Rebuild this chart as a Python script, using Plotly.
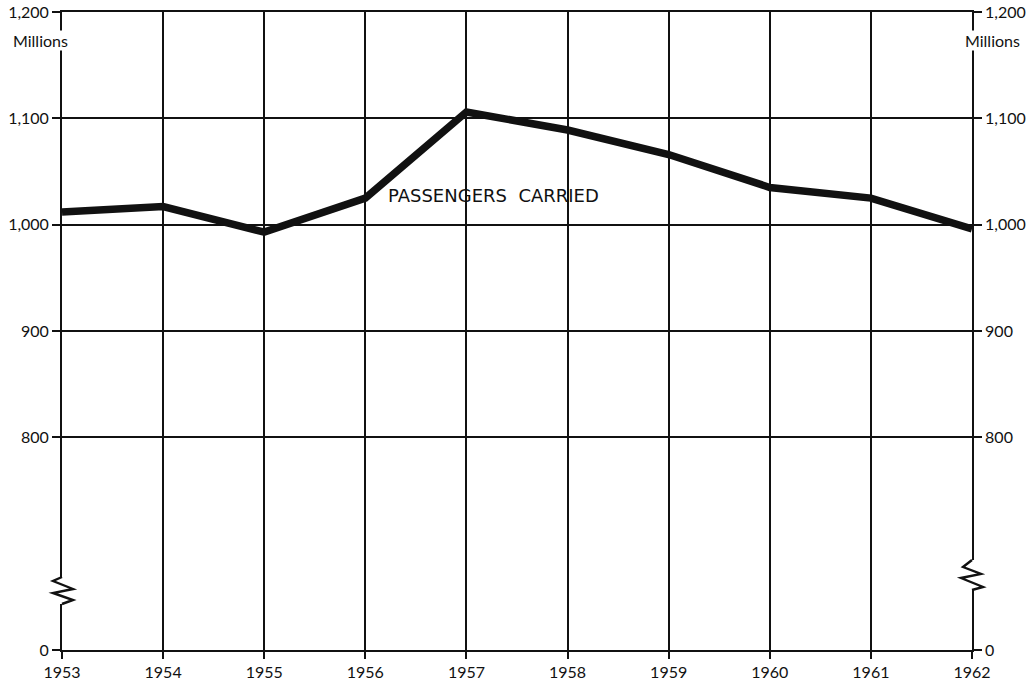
import plotly.graph_objects as go

years = [1953, 1954, 1955, 1956, 1957, 1958, 1959, 1960, 1961, 1962]
passengers = [1012, 1017, 993, 1025, 1106, 1089, 1066, 1035, 1025, 996]

# broken axis: the "0" baseline sits where 600 would be on the linear scale
y_tickvals = [600, 800, 900, 1000, 1100, 1200]
y_ticktext = ["0", "800", "900", "1,000", "1,100", "1,200"]

FONT = "Lato, 'Open Sans', sans-serif"
INK = "#111111"

W, H = 1030, 686
L, R, T, B = 62, 58, 12, 36
PW, PH = W - L - R, H - T - B

fig = go.Figure()

fig.add_trace(go.Scatter(
    x=years, y=passengers, mode="lines",
    line=dict(color=INK, width=7.5), showlegend=False, hoverinfo="skip",
))
# invisible trace for the right axis
fig.add_trace(go.Scatter(x=[years[0]], y=[600], yaxis="y2", mode="markers",
                         marker=dict(opacity=0), showlegend=False, hoverinfo="skip"))

axis_common = dict(
    range=[600, 1200], tickvals=y_tickvals, ticktext=y_ticktext,
    showgrid=True, gridcolor=INK, gridwidth=1.6,
    showline=True, linecolor=INK, linewidth=1.8,
    ticks="outside", ticklen=8, tickcolor=INK, tickwidth=1.5,
    tickfont=dict(family=FONT, size=16, color=INK),
    zeroline=False, fixedrange=True,
)

fig.update_layout(
    width=W, height=H,
    margin=dict(l=L, r=R, t=T, b=B),
    paper_bgcolor="white", plot_bgcolor="white",
    xaxis=dict(
        range=[1953, 1962], tickvals=years, ticktext=[str(y) for y in years],
        showgrid=True, gridcolor=INK, gridwidth=1.6,
        showline=True, linecolor=INK, linewidth=2, mirror=True,
        ticks="outside", ticklen=7, tickcolor=INK, tickwidth=1.5,
        tickfont=dict(family=FONT, size=16, color=INK),
        zeroline=False, fixedrange=True, automargin=False,
    ),
    yaxis=dict(side="left", automargin=False, **axis_common),
    yaxis2=dict(side="right", overlaying="y", automargin=False, **axis_common),
    font=dict(family=FONT, color=INK),
)

# series label
fig.add_annotation(x=1957.27, y=1027, xref="x", yref="y", text="PASSENGERS&nbsp; CARRIED",
                   showarrow=False, font=dict(family="'DejaVu Sans', sans-serif", size=18, color=INK),
                   xanchor="center", yanchor="middle")

# units labels
fig.add_annotation(x=0, y=1173, xref="paper", yref="y", text="Millions", showarrow=False,
                   xanchor="center", xshift=-22, bgcolor="white", borderpad=0,
                   font=dict(family=FONT, size=16, color=INK))
fig.add_annotation(x=1, y=1173, xref="paper", yref="y", text="Millions", showarrow=False,
                   xanchor="center", xshift=20, bgcolor="white", borderpad=0,
                   font=dict(family=FONT, size=16, color=INK))

# axis break zigzags (decoration), pixel offsets from the top of each break,
# expressed in paper coordinates so they are not clipped by the plot area
def to_paper(px, py):
    return (px - L) / PW, (H - B - py) / PH

left_pts = [(0, 0), (-9, 4), (11, 12), (-9, 16), (11, 23), (0, 27)]
right_pts = [(0, 0), (-9, 7), (9, 14), (-11, 18), (11, 27), (0, 30)]

for ax_px, ytop, pts in [(L, 577, left_pts), (W - R, 560, right_pts)]:
    coords = [to_paper(ax_px + dx, ytop + dy) for dx, dy in pts]
    (xa, ya), (_, yb) = coords[0], coords[-1]
    fig.add_shape(type="line", x0=xa, x1=xa, y0=ya, y1=yb, xref="paper", yref="paper",
                  line=dict(color="white", width=6))
    path = "M " + " L ".join(f"{a:.5f},{b:.5f}" for a, b in coords)
    fig.add_shape(type="path", path=path, xref="paper", yref="paper",
                  line=dict(color=INK, width=2.4))

fig.write_html("out.html", config={"displayModeBar": False},
               post_script="document.body.style.margin='0';")
